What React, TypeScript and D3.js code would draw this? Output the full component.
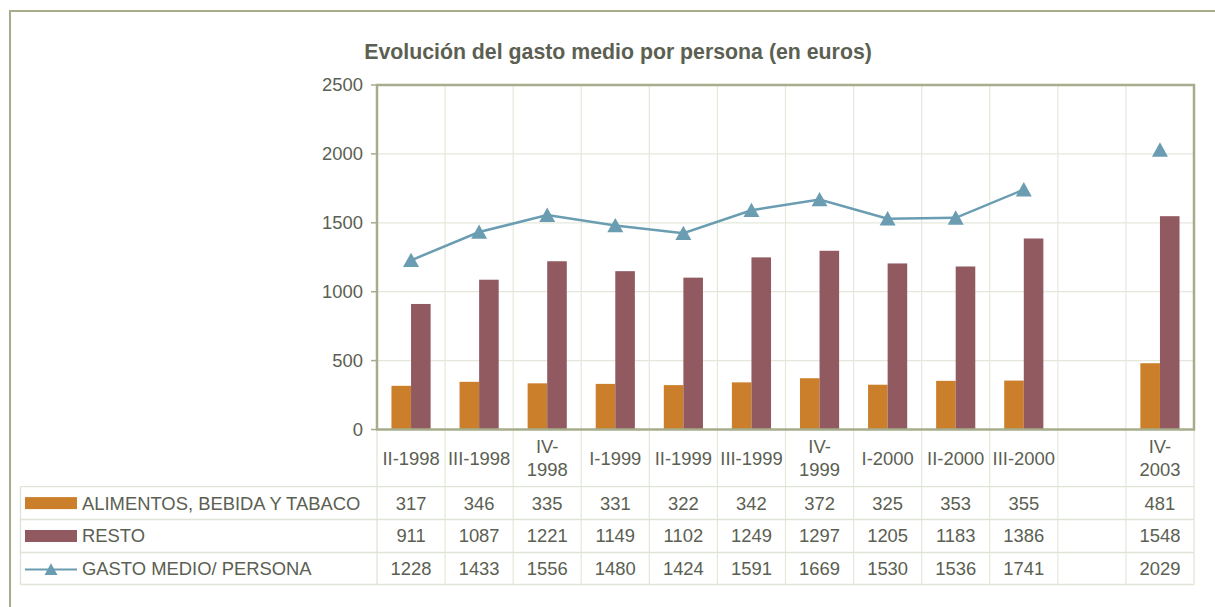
import React from "react";
import * as d3 from "d3";

const title = "Evolución del gasto medio por persona (en euros)";
const categories = ["II-1998", "III-1998", "IV-1998", "I-1999", "II-1999", "III-1999", "IV-1999", "I-2000", "II-2000", "III-2000", "", "IV-2003"];
const categoryLabels = ["II-1998", "III-1998", "IV-\n1998", "I-1999", "II-1999", "III-1999", "IV-\n1999", "I-2000", "II-2000", "III-2000", "", "IV-\n2003"];
const alimentos: (number | null)[] = [317, 346, 335, 331, 322, 342, 372, 325, 353, 355, null, 481];
const resto: (number | null)[] = [911, 1087, 1221, 1149, 1102, 1249, 1297, 1205, 1183, 1386, null, 1548];
const gasto: (number | null)[] = [1228, 1433, 1556, 1480, 1424, 1591, 1669, 1530, 1536, 1741, null, 2029];
const yTicks = [0, 500, 1000, 1500, 2000, 2500];
const seriesNames = ["ALIMENTOS, BEBIDA Y TABACO", "RESTO", "GASTO MEDIO/ PERSONA"];

const W = 1215, H = 607;
const plot = { left: 377, right: 1194, top: 85, bottom: 429.5 };
const tableLeft = 20.5;
const rowLines = [486.7, 519.5, 552.5, 584.5];
const FONT = "'Liberation Sans', Arial, Helvetica, sans-serif";
const FS = 18.4;
const TEXT = "#5b6052";
const FRAME = "#a6ad8c";
const GRID = "#e4e8db";
const TABLE = "#dfe5d6";
const ORANGE = "#cc7f2a";
const MAROON = "#905a60";
const BLUE = "#6a9db2";

const triPath = (s: number) => `M0,${-s * 0.95}L${s},${s * 0.85}L${-s},${s * 0.85}Z`;

export default function App() {
  const keys = categories.map((c, i) => i + ":" + c);
  const x = d3.scaleBand<string>().domain(keys).range([plot.left, plot.right]).padding(0);
  const y = d3.scaleLinear().domain([0, 2500]).range([plot.bottom, plot.top]);
  const bw = x.bandwidth();
  const groupW = bw * 0.575;
  const inner = d3.scaleBand<string>().domain(["a", "r"]).range([0, groupW]).padding(0);
  const line = d3
    .line<number | null>()
    .defined((d) => d != null)
    .x((_, i) => (x(keys[i]) as number) + bw / 2)
    .y((d) => y(d as number));

  const rows = [alimentos, resto, gasto];
  const rowCenters = [0, 1, 2].map((i) => (rowLines[i] + rowLines[i + 1]) / 2);

  return (
    <svg width={W} height={H} style={{ position: "absolute", left: 0, top: 0, background: "#fff" }} fontFamily={FONT}>
      {/* outer frame */}
      <line x1={10} y1={11} x2={W} y2={11} stroke={FRAME} strokeWidth={2} />
      <line x1={10} y1={10} x2={10} y2={H} stroke={FRAME} strokeWidth={2} />

      {/* title */}
      <text x={618} y={59} textAnchor="middle" fontSize={21.3} fontWeight="bold" fill={TEXT}>
        {title}
      </text>

      {/* horizontal gridlines */}
      {yTicks.map((t) => (
        <line key={"g" + t} x1={plot.left} x2={plot.right} y1={y(t)} y2={y(t)} stroke={GRID} strokeWidth={1.2} />
      ))}
      {/* vertical gridlines (category boundaries), extended through table */}
      {keys.slice(1).map((k) => (
        <line key={"v" + k} x1={x(k) as number} x2={x(k) as number} y1={plot.top} y2={rowLines[3]} stroke={GRID} strokeWidth={1.2} />
      ))}

      {/* table lines */}
      {rowLines.map((ry, i) => (
        <line key={"r" + i} x1={tableLeft} x2={plot.right} y1={ry} y2={ry} stroke={TABLE} strokeWidth={1.3} />
      ))}
      <line x1={tableLeft} x2={tableLeft} y1={rowLines[0]} y2={rowLines[3]} stroke={TABLE} strokeWidth={1.3} />
      <line x1={plot.left} x2={plot.left} y1={plot.bottom} y2={rowLines[3]} stroke={TABLE} strokeWidth={1.3} />
      <line x1={plot.right} x2={plot.right} y1={plot.bottom} y2={rowLines[3]} stroke={TABLE} strokeWidth={1.3} />

      {/* bars */}
      {keys.map((k, i) => {
        const gx = (x(k) as number) + (bw - groupW) / 2;
        return (
          <g key={"b" + k}>
            {alimentos[i] != null && (
              <rect x={gx + (inner("a") as number)} width={inner.bandwidth()} y={y(alimentos[i] as number)} height={y(0) - y(alimentos[i] as number)} fill={ORANGE} />
            )}
            {resto[i] != null && (
              <rect x={gx + (inner("r") as number)} width={inner.bandwidth()} y={y(resto[i] as number)} height={y(0) - y(resto[i] as number)} fill={MAROON} />
            )}
          </g>
        );
      })}

      {/* plot border */}
      <rect x={plot.left} y={plot.top} width={plot.right - plot.left} height={plot.bottom - plot.top} fill="none" stroke={FRAME} strokeWidth={2.5} />

      {/* y ticks */}
      {yTicks.map((t) => (
        <g key={"t" + t}>
          <line x1={plot.left - 6} x2={plot.left} y1={y(t)} y2={y(t)} stroke={FRAME} strokeWidth={1.5} />
          <text x={363} y={y(t)} dy="0.35em" textAnchor="end" fontSize={FS} fill={TEXT}>
            {t}
          </text>
        </g>
      ))}

      {/* line series */}
      <path d={line(gasto) || ""} fill="none" stroke={BLUE} strokeWidth={2.5} />
      {gasto.map((v, i) =>
        v == null ? null : (
          <path key={"m" + i} d={triPath(8)} transform={`translate(${(x(keys[i]) as number) + bw / 2},${y(v)})`} fill={BLUE} />
        )
      )}

      {/* category labels */}
      {keys.map((k, i) => {
        const parts = categoryLabels[i].split("\n");
        const cx = (x(k) as number) + bw / 2;
        const cy = (plot.bottom + rowLines[0]) / 2;
        return (
          <text key={"c" + k} x={cx} textAnchor="middle" fontSize={FS} fill={TEXT}>
            {parts.map((p, j) => (
              <tspan key={j} x={cx} y={cy + (j - (parts.length - 1) / 2) * 23} dy="0.35em">
                {p}
              </tspan>
            ))}
          </text>
        );
      })}

      {/* legend keys */}
      <rect x={25} y={rowCenters[0] - 6} width={52} height={12} fill={ORANGE} />
      <rect x={25} y={rowCenters[1] - 6} width={52} height={12} fill={MAROON} />
      <line x1={25} x2={77} y1={rowCenters[2] + 1} y2={rowCenters[2] + 1} stroke={BLUE} strokeWidth={2} />
      <path d={triPath(6.5)} transform={`translate(51,${rowCenters[2] + 1})`} fill={BLUE} />
      {seriesNames.map((n, i) => (
        <text key={"n" + i} x={82} y={rowCenters[i]} dy="0.35em" fontSize={FS} fill={TEXT}>
          {n}
        </text>
      ))}

      {/* table values */}
      {rows.map((r, ri) =>
        r.map((v, i) =>
          v == null ? null : (
            <text key={"v" + ri + "-" + i} x={(x(keys[i]) as number) + bw / 2} y={rowCenters[ri]} dy="0.35em" textAnchor="middle" fontSize={FS} fill={TEXT}>
              {v}
            </text>
          )
        )
      )}
    </svg>
  );
}
